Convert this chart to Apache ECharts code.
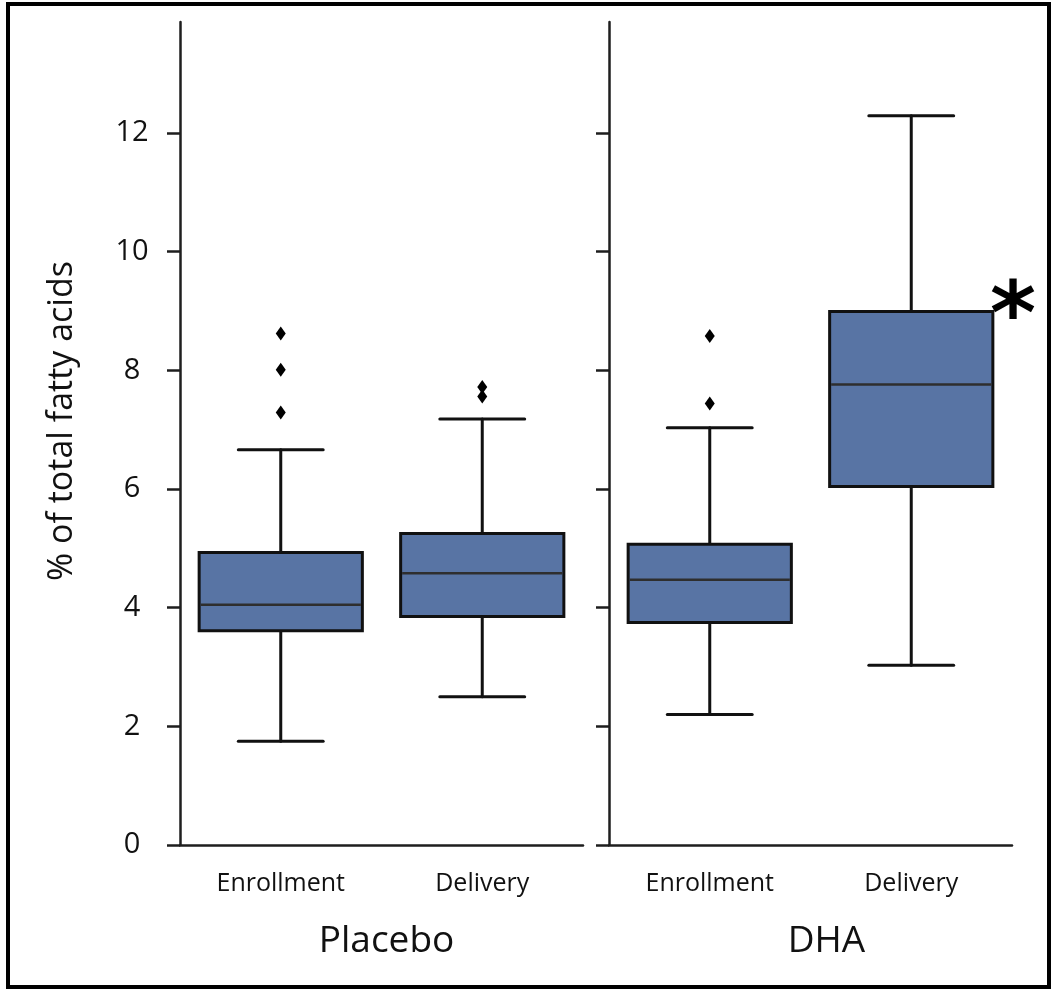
<!DOCTYPE html>
<html>
<head>
<meta charset="utf-8">
<script src="https://cdn.jsdelivr.net/npm/echarts@6/dist/echarts.min.js"></script>
<style>html,body{margin:0;padding:0;background:#fff;}#chart{width:1056px;height:991px;}</style>
</head>
<body>
<div id="chart"></div>
<script>
// ---- data ----
const categories = ['Enrollment', 'Delivery'];
const groups = ['Placebo', 'DHA'];
// [low whisker, Q1, median, Q3, high whisker]
const placeboStats = [
  [1.75, 3.61, 4.05, 4.93, 6.66],
  [2.50, 3.85, 4.58, 5.25, 7.18]
];
const dhaStats = [
  [2.20, 3.75, 4.47, 5.07, 7.03],
  [3.03, 6.04, 7.76, 8.99, 12.29]
];
// [category index, value]
const placeboOutliers = [[0, 8.62], [0, 8.01], [0, 7.29], [1, 7.72], [1, 7.56]];
const dhaOutliers = [[0, 8.58], [0, 7.44]];
const yTicks = [0, 2, 4, 6, 8, 10, 12];
const yMax = 13.87;
const yTitle = '% of total fatty acids';
const sigMark = '*';

// ---- chart ----
const FONT = 'Open Sans';
const AXIS_COLOR = '#1e1e1e';
const BOX_FILL = '#5874a4';

function toRows(stats) {
  return stats.map((s, i) => [i].concat(s));
}

function renderBox(params, api) {
  const x = api.value(0);
  const low = api.coord([x, api.value(1)]);
  const q1 = api.coord([x, api.value(2)]);
  const med = api.coord([x, api.value(3)]);
  const q3 = api.coord([x, api.value(4)]);
  const high = api.coord([x, api.value(5)]);
  const band = api.size([1, 0])[0];
  const bw = band * 0.81;
  const cw = bw * 0.52;
  const cx = low[0];
  const lineStyle = { stroke: '#111', lineWidth: 3, lineCap: 'round' };
  return {
    type: 'group',
    children: [
      { type: 'line', shape: { x1: cx, y1: low[1], x2: cx, y2: q1[1] }, style: lineStyle },
      { type: 'line', shape: { x1: cx, y1: q3[1], x2: cx, y2: high[1] }, style: lineStyle },
      { type: 'line', shape: { x1: cx - cw / 2, y1: low[1], x2: cx + cw / 2, y2: low[1] }, style: lineStyle },
      { type: 'line', shape: { x1: cx - cw / 2, y1: high[1], x2: cx + cw / 2, y2: high[1] }, style: lineStyle },
      { type: 'rect', shape: { x: cx - bw / 2, y: q3[1], width: bw, height: q1[1] - q3[1] },
        style: { fill: BOX_FILL, stroke: '#111', lineWidth: 3 } },
      { type: 'line', shape: { x1: cx - bw / 2 + 1.5, y1: med[1], x2: cx + bw / 2 - 1.5, y2: med[1] },
        style: { stroke: '#2e2e2e', lineWidth: 2.5 } }
    ]
  };
}

function xAxis(idx, name, namePad) {
  return {
    type: 'category', gridIndex: idx, data: categories,
    axisLine: { lineStyle: { color: AXIS_COLOR, width: 2.5 } },
    axisTick: { alignWithLabel: true, length: 10, lineStyle: { color: AXIS_COLOR, width: 2.5 } },
    axisLabel: { color: '#111', fontFamily: FONT, fontSize: 25, margin: 26 },
    name: name, nameLocation: 'middle', nameGap: 78,
    nameTextStyle: { color: '#111', fontFamily: FONT, fontSize: 37, padding: namePad }
  };
}

function yAxis(idx, showLabels) {
  return {
    type: 'value', gridIndex: idx, min: 0, max: yMax, interval: 2,
    splitLine: { show: false },
    axisLine: { show: true, lineStyle: { color: AXIS_COLOR, width: 2.5 } },
    axisTick: { show: true, length: 13, customValues: yTicks, lineStyle: { color: AXIS_COLOR, width: 2.5 } },
    axisLabel: { show: showLabels, customValues: yTicks, color: '#111', fontFamily: FONT, fontSize: 29,
      margin: 48, align: 'center' }
  };
}

const chart = echarts.init(document.getElementById('chart'), null, { renderer: 'canvas' });
chart.setOption({
  backgroundColor: '#fff',
  animation: false,
  grid: [
    { left: 180, right: 473, top: 22, bottom: 146 },
    { left: 609, right: 44, top: 22, bottom: 146 }
  ],
  xAxis: [xAxis(0, groups[0], [0, 0, 0, 10]), xAxis(1, groups[1], [0, 0, 0, 32])],
  yAxis: [yAxis(0, true), yAxis(1, false)],
  series: [
    { type: 'custom', xAxisIndex: 0, yAxisIndex: 0, data: toRows(placeboStats),
      encode: { x: 0, y: [1, 2, 3, 4, 5] }, renderItem: renderBox },
    { type: 'custom', xAxisIndex: 1, yAxisIndex: 1, data: toRows(dhaStats),
      encode: { x: 0, y: [1, 2, 3, 4, 5] }, renderItem: renderBox },
    { type: 'scatter', xAxisIndex: 0, yAxisIndex: 0, data: placeboOutliers,
      symbol: 'diamond', symbolSize: [10, 14], itemStyle: { color: '#000', opacity: 1 } },
    { type: 'scatter', xAxisIndex: 1, yAxisIndex: 1, data: dhaOutliers,
      symbol: 'diamond', symbolSize: [10, 14], itemStyle: { color: '#000', opacity: 1 } }
  ],
  graphic: [
    { type: 'rect', shape: { x: 8, y: 4, width: 1041, height: 983 },
      style: { fill: 'none', stroke: '#000', lineWidth: 4 }, silent: true },
    { type: 'text', x: 62, y: 421, rotation: Math.PI / 2,
      style: { text: yTitle, font: '34px "Open Sans"', fill: '#111', align: 'center', verticalAlign: 'middle' } },
    { type: 'text', x: 1013, y: 320,
      style: { text: sigMark, font: 'bold 88px "DejaVu Sans"', fill: '#000', align: 'center', verticalAlign: 'middle' } }
  ]
});
</script>
</body>
</html>
